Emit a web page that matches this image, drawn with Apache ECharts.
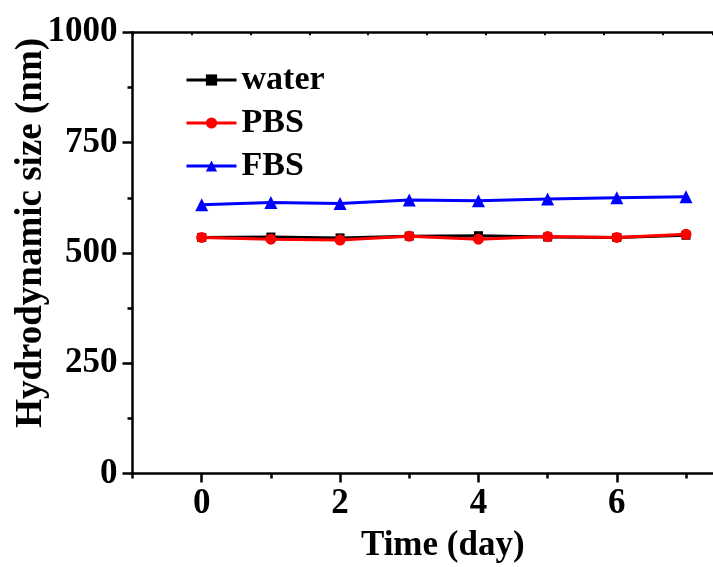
<!DOCTYPE html>
<html>
<head>
<meta charset="utf-8">
<script src="https://cdn.jsdelivr.net/npm/echarts@6/dist/echarts.min.js"></script>
<style>html,body{margin:0;padding:0;background:#fff;}#c{width:713px;height:567px;}</style>
</head>
<body>
<div id="c"></div>
<script>
var days = [0, 1, 2, 3, 4, 5, 6, 7];
var water = [535, 536, 534, 538, 539, 536, 535, 540];
var pbs = [535, 531, 529, 538, 531, 537, 535, 542];
var fbs = [609, 614, 612, 620, 618, 622, 625, 627];
var xTickLabels = [0, 2, 4, 6];
var xMinorTicks = [-1, 1, 3, 5, 7];

function pairs(vals) { return days.map(function (d, i) { return [d, vals[i]]; }); }

var font = 'Liberation Serif';
var chart = echarts.init(document.getElementById('c'), null, {renderer: 'canvas'});
chart.setOption({
  backgroundColor: '#ffffff',
  animation: false,
  grid: {left: 132.5, top: 32.3, right: 0, bottom: 93.5, containLabel: false, outerBoundsMode: 'none'},
  legend: {
    orient: 'vertical', left: 180, top: 58, itemWidth: 50, itemHeight: 14, itemGap: 9,
    lineStyle: {width: 3},
    textStyle: {fontFamily: font, fontWeight: 'bold', fontSize: 34, color: '#000', padding: [0, 0, 0, 0]},
    data: ['water', 'PBS', 'FBS']
  },
  xAxis: [{
    type: 'value', position: 'bottom', min: -1, max: 7.39,
    name: 'Time (day)', nameLocation: 'middle', nameGap: 55, nameMoveOverlap: false,
    nameTextStyle: {fontFamily: font, fontWeight: 'bold', fontSize: 35, color: '#000', padding: [0, 0, 0, 40]},
    axisLine: {show: true, onZero: false, lineStyle: {color: '#000', width: 2.5}},
    axisTick: {show: true, customValues: xTickLabels, length: 9, lineStyle: {color: '#000', width: 2.5}},
    axisLabel: {customValues: xTickLabels, margin: 13, fontFamily: font, fontWeight: 'bold', fontSize: 35, color: '#000'},
    splitLine: {show: false}
  }, {
    type: 'value', position: 'bottom', min: -1, max: 7.39,
    axisLine: {show: false},
    axisTick: {show: true, customValues: xMinorTicks, length: 5, lineStyle: {color: '#000', width: 2.5}},
    axisLabel: {show: false},
    splitLine: {show: false}
  }, {
    type: 'value', position: 'top', min: 0, max: 9.85, interval: 1,
    axisLine: {show: true, onZero: false, lineStyle: {color: '#000', width: 2.5}},
    axisTick: {show: true, inside: true, length: 3, lineStyle: {color: '#000', width: 2}},
    axisLabel: {show: false},
    splitLine: {show: false}
  }],
  yAxis: {
    type: 'value', min: 0, max: 1000, interval: 250,
    name: 'Hydrodynamic size (nm)', nameLocation: 'middle', nameGap: 83, nameMoveOverlap: false,
    nameTextStyle: {fontFamily: font, fontWeight: 'bold', fontSize: 37, color: '#000', padding: [0, 0, 0, 40]},
    axisLine: {show: true, onZero: false, lineStyle: {color: '#000', width: 2.5}},
    axisTick: {show: true, length: 10, lineStyle: {color: '#000', width: 2.5}},
    minorTick: {show: true, splitNumber: 2, length: 5, lineStyle: {color: '#000', width: 2.5}},
    axisLabel: {margin: 15, fontFamily: font, fontWeight: 'bold', fontSize: 35, color: '#000',
      formatter: function (v) { return String(v); }},
    splitLine: {show: false}
  },
  series: [{
    name: 'water', type: 'line', xAxisIndex: 0, data: pairs(water),
    symbol: 'rect', symbolSize: 9, itemStyle: {color: '#000'}, lineStyle: {color: '#000', width: 3}, z: 2
  }, {
    name: 'PBS', type: 'line', xAxisIndex: 0, data: pairs(pbs),
    symbol: 'circle', symbolSize: 11, itemStyle: {color: '#ff0000'}, lineStyle: {color: '#ff0000', width: 3}, z: 3
  }, {
    name: 'FBS', type: 'line', xAxisIndex: 0, data: pairs(fbs),
    symbol: 'triangle', symbolSize: 13, itemStyle: {color: '#0000ff'}, lineStyle: {color: '#0000ff', width: 3}, z: 4
  }]
});
</script>
</body>
</html>
